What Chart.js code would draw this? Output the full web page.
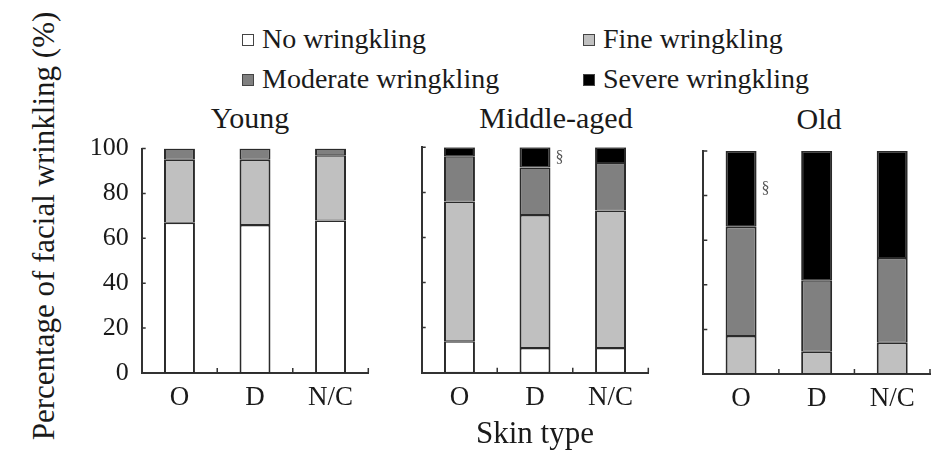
<!DOCTYPE html>
<html lang="en">

<head>
    <meta charset="UTF-8">
    <title>Facial wrinkling by skin type</title>
    <script src="https://cdn.jsdelivr.net/npm/chart.js@4.4.1/dist/chart.umd.min.js"></script>
    <style>
        body { margin: 0; width: 936px; height: 453px; overflow: hidden; background: #fff; position: relative;
               font-family: "Liberation Serif", "Times New Roman", serif; color: #1a1a1a; }
        canvas { position: absolute; }
        .txt { position: absolute; white-space: nowrap; line-height: 1; transform: translate(-50%, -50%); }
        .lg { position: absolute; white-space: nowrap; line-height: 1; font-size: 28px; transform: translateY(-50%); }
        .sq { position: absolute; width: 10px; height: 10px; border: 1.5px solid #444; }
    </style>
</head>

<body>
    <div id="legend"></div>
    <div class="txt" style="left:43px; top:226px; font-size:31px; transform: translate(-50%, -50%) rotate(-90deg);">Percentage of facial wrinkling (%)</div>
    <div class="txt" style="left:250px; top:118px; font-size:30px;">Young</div>
    <div class="txt" style="left:556px; top:118px; font-size:30px;">Middle-aged</div>
    <div class="txt" style="left:819px; top:119px; font-size:30px;">Old</div>

    <canvas id="young" width="320" height="333" style="left:60px; top:120px;"></canvas>
    <canvas id="middle" width="260" height="333" style="left:400px; top:120px;"></canvas>
    <canvas id="old" width="256" height="333" style="left:680px; top:120px;"></canvas>
</body>
<script>
    // values (% of subjects), bottom to top
    var skinTypes = ['O', 'D', 'N/C'];
    var seriesNames = ['No wringkling', 'Fine wringkling', 'Moderate wringkling', 'Severe wringkling'];
    var seriesColors = ['#ffffff', '#c0c0c0', '#808080', '#000000'];

    var youngNone = [67, 66, 68];
    var youngFine = [28, 29, 29];
    var youngModerate = [5, 5, 3];
    var youngSevere = [0, 0, 0];

    var middleNone = [14, 11, 11];
    var middleFine = [62, 59, 61];
    var middleModerate = [20, 21, 21];
    var middleSevere = [4, 9, 7];

    var oldNone = [0, 0, 0];
    var oldFine = [17, 10, 14];
    var oldModerate = [49, 32, 38];
    var oldSevere = [34, 58, 48];

    // significance marks next to the severe segment
    var middleMarks = ['', '\u00a7', ''];
    var oldMarks = ['\u00a7', '', ''];

    // legend, two rows
    var legendPos = [[242, 39], [583, 39], [242, 79], [583, 79]];
    var legend = document.getElementById('legend');
    seriesNames.forEach(function (name, i) {
        var sq = document.createElement('div');
        sq.className = 'sq';
        sq.style.left = legendPos[i][0] + 'px';
        sq.style.top = (legendPos[i][1] - 5) + 'px';
        sq.style.background = seriesColors[i];
        legend.appendChild(sq);
        var lb = document.createElement('div');
        lb.className = 'lg';
        lb.style.left = (legendPos[i][0] + 20) + 'px';
        lb.style.top = legendPos[i][1] + 'px';
        lb.textContent = name;
        legend.appendChild(lb);
    });

    // inward ticks on both axes + the § marks
    var panelDeco = {
        id: 'panelDeco',
        afterDraw: function (chart, args, opts) {
            var ctx = chart.ctx, area = chart.chartArea;
            var x = chart.scales.x, y = chart.scales.y;
            ctx.save();
            ctx.strokeStyle = '#333';
            ctx.lineWidth = 1.5;
            ctx.beginPath();
            y.ticks.forEach(function (t, i) {
                var py = y.getPixelForTick(i);
                ctx.moveTo(area.left, py);
                ctx.lineTo(area.left + 4, py);
            });
            for (var i = 0; i < x.ticks.length; i++) {
                var px = i < x.ticks.length - 1 ? (x.getPixelForTick(i) + x.getPixelForTick(i + 1)) / 2 : area.right;
                ctx.moveTo(px, area.bottom);
                ctx.lineTo(px, area.bottom - 5);
            }
            ctx.stroke();
            if (opts.marks) {
                var meta = chart.getDatasetMeta(3);
                ctx.fillStyle = '#555';
                ctx.font = '16px "Liberation Serif"';
                ctx.textBaseline = 'middle';
                opts.marks.forEach(function (m, i) {
                    if (!m) return;
                    var bar = meta.data[i];
                    ctx.fillText(m, bar.x + bar.width / 2 + 5, (bar.y + bar.base) / 2);
                });
            }
            ctx.restore();
        }
    };

    function makePanel(id, values, o) {
        var datasets = values.map(function (vals, i) {
            return {
                label: seriesNames[i],
                data: vals,
                backgroundColor: seriesColors[i],
                borderColor: '#2a2a2a',
                borderWidth: { left: 2, right: 2, top: 1.5, bottom: 1 },
                borderSkipped: false,
                barPercentage: 0.41,
                categoryPercentage: 1
            };
        });
        return new Chart(document.getElementById(id), {
            type: 'bar',
            data: { labels: skinTypes, datasets: datasets },
            options: {
                responsive: false,
                animation: false,
                layout: { padding: { top: o.top, right: o.right, left: 0, bottom: 0 } },
                plugins: {
                    legend: { display: false },
                    tooltip: { enabled: false },
                    panelDeco: { marks: o.marks }
                },
                scales: {
                    x: {
                        stacked: true,
                        grid: { display: false, drawTicks: false },
                        border: { display: true, color: '#333', width: 2 },
                        ticks: { color: '#1a1a1a', padding: 9, font: { family: 'Liberation Serif', size: 27 } },
                        title: {
                            display: !!o.xTitle, text: o.xTitle || '', color: '#1a1a1a',
                            padding: 0, font: { family: 'Liberation Serif', size: 31 }
                        },
                        afterFit: function (s) { s.height = o.xh; }
                    },
                    y: {
                        stacked: true,
                        min: 0,
                        max: 100,
                        grid: { display: false, drawTicks: false },
                        border: { display: true, color: '#333', width: 2 },
                        ticks: {
                            stepSize: 20, display: o.yLabels, color: '#1a1a1a', padding: 13,
                            font: { family: 'Liberation Serif', size: 26 }
                        },
                        afterFit: function (s) { s.width = o.yw; }
                    }
                }
            },
            plugins: [panelDeco]
        });
    }

    makePanel('young', [youngNone, youngFine, youngModerate, youngSevere],
        { top: 27, right: 11.7, yw: 81.7, xh: 80, yLabels: true });
    makePanel('middle', [middleNone, middleFine, middleModerate, middleSevere],
        { top: 27.3, right: 11.7, yw: 21.7, xh: 80.3, yLabels: false, xTitle: 'Skin type', marks: middleMarks });
    makePanel('old', [oldNone, oldFine, oldModerate, oldSevere],
        { top: 31, right: 6, yw: 23.3, xh: 79, yLabels: false, marks: oldMarks });
</script>

</html>
